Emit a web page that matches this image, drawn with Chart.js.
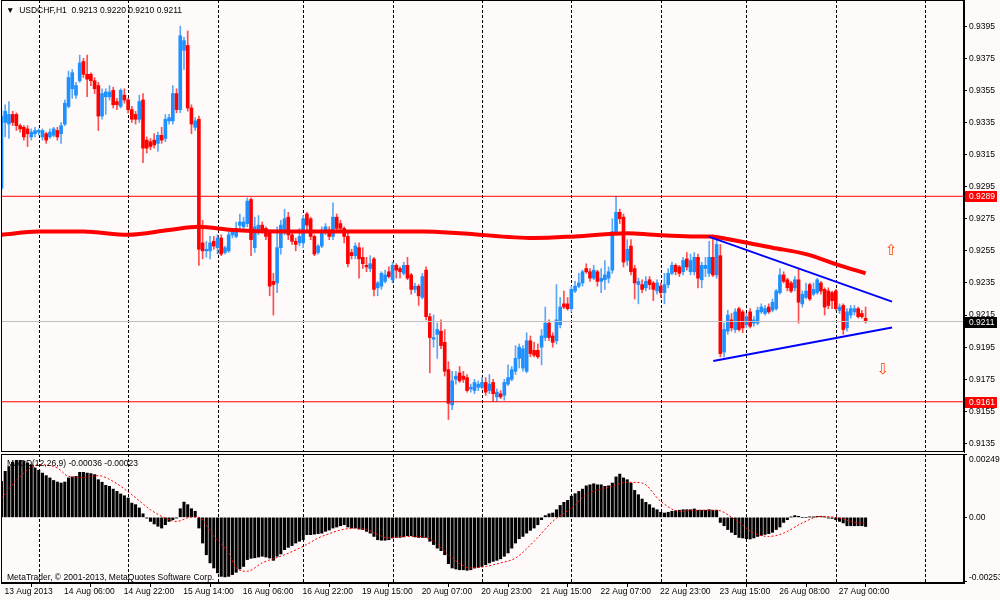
<!DOCTYPE html>
<html>
<head>
<meta charset="UTF-8">
<title>USDCHF,H1</title>
<style>
    body { margin: 0; background: #fffafa; overflow: hidden; }
    #wrap { position: relative; width: 1000px; height: 600px; overflow: hidden; background: #fffafa; }
    .panel { position: absolute; left: 0; width: 1000px; }
    #price-panel { top: 0; height: 453px; }
    #macd-panel { top: 453px; height: 147px; }
    .note {
        position: absolute;
        font-family: "Liberation Sans", Arial, sans-serif;
        font-size: 8.5px;
        line-height: 10px;
        color: #000;
        white-space: pre;
    }
</style>
</head>
<body>
<div id="wrap">
    <div class="panel" id="price-panel"><canvas id="price-chart"></canvas></div>
    <div class="panel" id="macd-panel"><canvas id="macd-chart"></canvas></div>
    <div class="note" style="left:6px; top:5px;">▼  USDCHF,H1  0.9213 0.9220 0.9210 0.9211</div>
    <div class="note" style="left:7px; top:458px;">MACD(12,26,9) -0.00036 -0.00023</div>
    <div class="note" style="left:7px; top:572px;">MetaTrader, © 2001-2013, MetaQuotes Software Corp.</div>
</div>

<script src="https://cdn.jsdelivr.net/npm/chart.js"></script>
<script>
    // H1 candles, bar 0 = 13 Aug 2013 14:00
    const opens = [
        .9294, .9335, .9334, .9340, .9340, .9333, .9332, .9331, .9326, .9328,
        .9329, .9326, .9328, .9326, .9327, .9330, .9328, .9334, .9345, .9356,
        .9352, .9361, .9373, .9365, .9365, .9361, .9358, .9339, .9351, .9351,
        .9355, .9348, .9345, .9352, .9349, .9343, .9340, .9337, .9349, .9324,
        .9323, .9324, .9322, .9327, .9325, .9336, .9336, .9353, .9343, .9380,
        .9383, .9344, .9332, .9337, .9260, .9255, .9255, .9261, .9257, .9263,
        .9254, .9255, .9265, .9264, .9271, .9270, .9272, .9287, .9257, .9268,
        .9271, .9269, .9267, .9236, .9235, .9257, .9268, .9276, .9265, .9261,
        .9260, .9260, .9278, .9275, .9264, .9254, .9258, .9267, .9268, .9264,
        .9276, .9272, .9269, .9264, .9254, .9252, .9257, .9251, .9246, .9244,
        .9250, .9232, .9233, .9236, .9242, .9237, .9246, .9244, .9241, .9246,
        .9240, .9231, .9233, .9226, .9243, .9214, .9200, .9203, .9205, .9198,
        .9181, .9159, .9175, .9179, .9177, .9176, .9169, .9168, .9170, .9170,
        .9173, .9168, .9173, .9164, .9166, .9165, .9172, .9175, .9180, .9188,
        .9182, .9180, .9199, .9193, .9193, .9195, .9201, .9210, .9202, .9199,
        .9209, .9222, .9222, .9219, .9230, .9233, .9235, .9244, .9242, .9238,
        .9242, .9236, .9237, .9238, .9243, .9267, .9279, .9276, .9249, .9258,
        .9244, .9234, .9234, .9232, .9237, .9235, .9230, .9233, .9229, .9234,
        .9241, .9246, .9245, .9242, .9250, .9242, .9242, .9251, .9237, .9244,
        .9241, .9251, .9240, .9252, .9192, .9205, .9212, .9206, .9219, .9217,
        .9209, .9217, .9210, .9210, .9217, .9216, .9220, .9218, .9219, .9229,
        .9240, .9237, .9235, .9232, .9237, .9222, .9226, .9234, .9228, .9229,
        .9235, .9231, .9230, .9229, .9230, .9218, .9221, .9207, .9215, .9217,
        .9219, .9216, .9213
    ];
    const highs = [
        .9343, .9346, .9348, .9342, .9341, .9334, .9333, .9333, .9331, .9332,
        .9331, .9331, .9329, .9331, .9332, .9332, .9335, .9349, .9367, .9368,
        .9360, .9377, .9375, .9377, .9366, .9363, .9360, .9356, .9356, .9358,
        .9357, .9350, .9356, .9356, .9350, .9345, .9342, .9352, .9353, .9326,
        .9325, .9328, .9329, .9332, .9340, .9340, .9358, .9356, .9395, .9388,
        .9392, .9346, .9338, .9339, .9274, .9261, .9264, .9264, .9265, .9265,
        .9258, .9268, .9269, .9273, .9278, .9276, .9288, .9288, .9276, .9277,
        .9273, .9270, .9268, .9241, .9270, .9274, .9281, .9279, .9267, .9263,
        .9269, .9277, .9279, .9276, .9265, .9259, .9270, .9272, .9270, .9285,
        .9278, .9274, .9270, .9266, .9256, .9260, .9260, .9257, .9251, .9252,
        .9251, .9236, .9242, .9243, .9245, .9248, .9247, .9245, .9248, .9251,
        .9241, .9235, .9234, .9241, .9245, .9216, .9215, .9210, .9212, .9206,
        .9186, .9180, .9180, .9183, .9180, .9178, .9172, .9175, .9174, .9176,
        .9176, .9178, .9175, .9169, .9168, .9175, .9184, .9183, .9196, .9197,
        .9196, .9204, .9202, .9198, .9197, .9206, .9220, .9212, .9204, .9234,
        .9226, .9230, .9226, .9233, .9236, .9241, .9243, .9247, .9244, .9246,
        .9243, .9244, .9249, .9245, .9275, .9289, .9281, .9278, .9262, .9262,
        .9246, .9238, .9237, .9239, .9239, .9236, .9237, .9235, .9241, .9244,
        .9248, .9247, .9246, .9251, .9254, .9253, .9254, .9253, .9248, .9251,
        .9261, .9265, .9264, .9259, .9210, .9218, .9216, .9219, .9220, .9218,
        .9216, .9219, .9214, .9220, .9222, .9221, .9222, .9225, .9231, .9244,
        .9242, .9238, .9236, .9239, .9244, .9230, .9235, .9235, .9235, .9238,
        .9236, .9232, .9232, .9230, .9231, .9222, .9222, .9219, .9221, .9221,
        .9220, .9218, .9220
    ];
    const lows = [
        .9293, .9326, .9325, .9333, .9330, .9329, .9324, .9320, .9324, .9326,
        .9327, .9324, .9322, .9325, .9326, .9324, .9322, .9333, .9344, .9350,
        .9350, .9360, .9363, .9351, .9358, .9353, .9330, .9337, .9340, .9349,
        .9344, .9343, .9344, .9347, .9341, .9335, .9334, .9335, .9310, .9316,
        .9318, .9319, .9317, .9322, .9323, .9334, .9334, .9341, .9341, .9368,
        .9342, .9328, .9330, .9246, .9250, .9251, .9250, .9256, .9253, .9252,
        .9253, .9254, .9263, .9263, .9269, .9269, .9270, .9252, .9254, .9265,
        .9266, .9262, .9227, .9215, .9229, .9253, .9265, .9262, .9259, .9255,
        .9258, .9257, .9268, .9262, .9252, .9253, .9257, .9265, .9262, .9262,
        .9267, .9267, .9260, .9245, .9250, .9250, .9238, .9244, .9242, .9242,
        .9227, .9227, .9231, .9235, .9238, .9235, .9238, .9238, .9240, .9237,
        .9228, .9229, .9221, .9225, .9212, .9179, .9195, .9188, .9194, .9177,
        .9150, .9156, .9172, .9173, .9173, .9167, .9167, .9166, .9168, .9169,
        .9165, .9166, .9161, .9161, .9163, .9162, .9171, .9174, .9178, .9182,
        .9180, .9179, .9189, .9189, .9188, .9184, .9199, .9199, .9195, .9197,
        .9207, .9219, .9218, .9217, .9229, .9232, .9233, .9241, .9236, .9237,
        .9233, .9229, .9231, .9235, .9241, .9265, .9272, .9245, .9246, .9240,
        .9225, .9222, .9229, .9230, .9231, .9224, .9228, .9226, .9222, .9232,
        .9240, .9240, .9239, .9240, .9243, .9240, .9240, .9232, .9232, .9239,
        .9239, .9239, .9238, .9189, .9189, .9203, .9205, .9204, .9205, .9204,
        .9207, .9207, .9208, .9209, .9216, .9215, .9216, .9217, .9218, .9228,
        .9235, .9230, .9229, .9230, .9210, .9220, .9225, .9224, .9227, .9228,
        .9228, .9215, .9219, .9219, .9218, .9216, .9203, .9205, .9213, .9215,
        .9213, .9213, .9210
    ];
    const closes = [
        .9339, .9342, .9340, .9335, .9333, .9331, .9326, .9328, .9329, .9330,
        .9330, .9330, .9324, .9329, .9331, .9326, .9333, .9347, .9363, .9366,
        .9358, .9372, .9365, .9362, .9361, .9356, .9339, .9353, .9354, .9354,
        .9346, .9346, .9355, .9349, .9343, .9337, .9337, .9348, .9319, .9319,
        .9320, .9321, .9327, .9324, .9337, .9338, .9353, .9343, .9389, .9386,
        .9344, .9334, .9336, .9256, .9255, .9256, .9260, .9258, .9263, .9253,
        .9257, .9265, .9267, .9269, .9273, .9273, .9286, .9262, .9270, .9271,
        .9268, .9264, .9233, .9234, .9257, .9271, .9275, .9265, .9261, .9259,
        .9264, .9275, .9271, .9264, .9253, .9258, .9268, .9270, .9264, .9276,
        .9269, .9269, .9264, .9247, .9252, .9258, .9250, .9247, .9245, .9247,
        .9231, .9235, .9241, .9240, .9239, .9246, .9243, .9242, .9246, .9238,
        .9231, .9233, .9227, .9239, .9214, .9201, .9201, .9206, .9196, .9180,
        .9160, .9174, .9177, .9174, .9175, .9168, .9170, .9173, .9172, .9173,
        .9167, .9172, .9166, .9167, .9164, .9173, .9176, .9181, .9188, .9195,
        .9194, .9199, .9191, .9190, .9189, .9202, .9210, .9201, .9198, .9212,
        .9220, .9220, .9219, .9231, .9233, .9235, .9242, .9242, .9238, .9243,
        .9236, .9238, .9240, .9242, .9267, .9279, .9275, .9248, .9256, .9242,
        .9235, .9236, .9231, .9236, .9234, .9231, .9235, .9229, .9234, .9241,
        .9246, .9242, .9241, .9249, .9245, .9249, .9251, .9238, .9246, .9246,
        .9251, .9240, .9259, .9191, .9206, .9215, .9207, .9217, .9206, .9207,
        .9214, .9208, .9212, .9218, .9220, .9219, .9217, .9223, .9230, .9240,
        .9236, .9232, .9230, .9237, .9223, .9228, .9230, .9225, .9231, .9237,
        .9230, .9220, .9221, .9224, .9219, .9220, .9206, .9217, .9219, .9219,
        .9214, .9214, .9211
    ];

    // slow moving average (thick red), read at a few bars
    const maBars = [0, 10, 22, 34, 45, 53, 62, 75, 88, 102, 113, 123, 143, 154, 168, 175, 185, 190, 198, 207, 216, 225, 232];
    const maValues = [.9265, .9267, .9267, .9265, .9268, .9270, .9268, .9267, .9267, .9267, .9267, .9266, .9263, .9264, .9266, .9265, .9264, .9264, .9261, .9257, .9253, .9246, .9241];

    // MACD(12,26,9) main histogram, one value per bar
    const macdMain = [
        .00141, .00181, .00200, .00216, .00224, .00224, .00220, .00214, .00207, .00194,
        .00185, .00174, .00164, .00155, .00145, .00139, .00135, .00139, .00155, .00159,
        .00161, .00177, .00177, .00174, .00172, .00168, .00148, .00138, .00126, .00122,
        .00111, .00102, .00092, .00085, .00076, .00056, .00050, .00037, .00014, -.00003,
        -.00016, -.00026, -.00035, -.00042, -.00029, -.00016, -.00009, -.00003, .00034, .00060,
        .00050, .00034, .00024, -.00042, -.00101, -.00147, -.00179, -.00199, -.00218, -.00232,
        -.00234, -.00232, -.00225, -.00216, -.00203, -.00193, -.00166, -.00161, -.00159, -.00156,
        -.00153, -.00156, -.00160, -.00169, -.00153, -.00144, -.00127, -.00118, -.00111, -.00101,
        -.00094, -.00088, -.00068, -.00068, -.00066, -.00064, -.00062, -.00055, -.00050, -.00042,
        -.00038, -.00033, -.00029, -.00038, -.00042, -.00042, -.00046, -.00048, -.00055, -.00062,
        -.00075, -.00088, -.00090, -.00090, -.00088, -.00081, -.00079, -.00079, -.00077, -.00072,
        -.00072, -.00077, -.00079, -.00079, -.00079, -.00094, -.00107, -.00121, -.00131, -.00147,
        -.00182, -.00199, -.00203, -.00206, -.00206, -.00208, -.00206, -.00199, -.00197, -.00193,
        -.00186, -.00179, -.00173, -.00169, -.00163, -.00153, -.00140, -.00121, -.00101, -.00084,
        -.00075, -.00062, -.00051, -.00042, -.00029, -.00009, .00007, .00014, .00017, .00030,
        .00047, .00059, .00067, .00083, .00093, .00102, .00111, .00124, .00128, .00132,
        .00128, .00128, .00122, .00124, .00135, .00159, .00170, .00155, .00148, .00135,
        .00106, .00089, .00072, .00059, .00050, .00037, .00030, .00020, .00017, .00020,
        .00024, .00026, .00028, .00030, .00030, .00030, .00033, .00028, .00028, .00028,
        .00030, .00028, .00028, -.00020, -.00033, -.00048, -.00059, -.00068, -.00079, -.00081,
        -.00084, -.00085, -.00081, -.00075, -.00071, -.00067, -.00064, -.00059, -.00048, -.00038,
        -.00020, -.00009, .00001, .00007, .00004, .00000, .00000, .00001, .00001, .00004,
        .00004, .00001, -.00003, -.00004, -.00009, -.00016, -.00022, -.00033, -.00033, -.00033,
        -.00033, -.00033, -.00036
    ];
    // signal line (red dotted), read at a few bars
    const signalBars = [0, 5, 10, 15, 18, 22, 26, 30, 35, 40, 44, 47, 51, 53, 57, 61, 63, 66, 70, 76, 81, 86, 95, 98, 104, 108, 112, 116, 121, 126, 130, 134, 138, 143, 148, 153, 157, 164, 168, 172, 177, 182, 188, 192, 197, 202, 206, 210, 215, 220, 225, 229, 232];
    const signalValues = [.00076, .00161, .00207, .00194, .00161, .00157, .00164, .00141, .00089, .00030, -.00003, -.00016, .00001, .00000, -.00075, -.00140, -.00199, -.00212, -.00179, -.00147, -.00114, -.00075, -.00042, -.00048, -.00081, -.00075, -.00075, -.00094, -.00160, -.00199, -.00193, -.00179, -.00160, -.00094, -.00016, .00037, .00089, .00122, .00138, .00135, .00063, .00024, .00028, .00028, -.00009, -.00062, -.00075, -.00062, -.00022, .00004, -.00003, -.00020, -.00023];

    // objects drawn on the chart
    const levelPrices = [0.9289, 0.9161];
    const bidPrice = 0.9211;
    const upperTrendBars = [189.9, 239.1];
    const upperTrendPrices = [0.92639, 0.92234];
    const lowerTrendBars = [191.1, 239.1];
    const lowerTrendPrices = [0.91864, 0.92072];
    const arrowBars = [238.9, 236.7];
    const arrowPrices = [0.9255, 0.9181];
    const arrowGlyphs = ['⇧', '⇩'];
    const tagPrices = [0.9289, 0.9211, 0.9161];
    const tagColors = ['#ff0000', '#000000', '#ff0000'];

    // axes
    const priceTicks = [0.9135, 0.9155, 0.9175, 0.9195, 0.9215, 0.9235, 0.9255, 0.9275, 0.9295, 0.9315, 0.9335, 0.9355, 0.9375, 0.9395];
    const macdTicks = [0.00249, 0, -0.00253];
    const macdTickLabels = ['0.00249', '0.00', '-0.00253'];
    const timeTickBars = [0, 16, 32, 48, 64, 80, 96, 112, 128, 144, 160, 176, 192, 208, 224];
    const timeTickLabels = ['13 Aug 2013', '14 Aug 06:00', '14 Aug 22:00', '15 Aug 14:00', '16 Aug 06:00', '16 Aug 22:00', '19 Aug 15:00', '20 Aug 07:00', '20 Aug 23:00', '21 Aug 15:00', '22 Aug 07:00', '22 Aug 23:00', '23 Aug 15:00', '26 Aug 08:00', '27 Aug 00:00'];
    const dayStartBars = [10, 34, 58, 81, 105, 129, 153, 177, 200, 224, 248];

    const FONT = '"Liberation Sans", Arial, sans-serif';
    const xMin = -0.13, xMax = 258.42;
    const axisWidth = 36;

    const bull = '#1e90ff', bear = '#ff0000';
    const bodyColors = closes.map((c, i) => c >= opens[i] ? bull : bear);
    const wickColors = closes.map((c, i) => c >= opens[i] ? '#5aa9f6' : '#ff4d4d');

    // fixed-width right scale, no extra padding for the edge labels
    const fitRight = s => {
        s.width = axisWidth;
        s.paddingTop = 0;
        s.paddingBottom = 0;
    };

    // dashed day separators, behind the bars
    const dayGrid = {
        id: 'dayGrid',
        beforeDatasetsDraw(chart) {
            const { ctx, chartArea: a, scales: { x } } = chart;
            ctx.save();
            ctx.strokeStyle = '#000';
            ctx.lineWidth = 1;
            ctx.setLineDash([3, 2]);
            dayStartBars.forEach(b => {
                const px = Math.round(x.getPixelForValue(b)) + 0.5;
                if (px < a.left || px > a.right) return;
                ctx.beginPath();
                ctx.moveTo(px, a.top);
                ctx.lineTo(px, a.bottom);
                ctx.stroke();
            });
            ctx.restore();
        }
    };

    const frame = {
        id: 'frame',
        afterDraw(chart) {
            const { ctx, chartArea: a } = chart;
            ctx.save();
            ctx.strokeStyle = '#000';
            ctx.lineWidth = 1;
            ctx.strokeRect(a.left + 0.5, a.top + 0.5, a.width - 1, a.height - 1);
            ctx.restore();
        }
    };

    // price boxes on the right scale and the two arrows
    const priceExtras = {
        id: 'priceExtras',
        afterDatasetsDraw(chart) {
            const { ctx, scales: { x, y } } = chart;
            ctx.save();
            ctx.font = '15px "DejaVu Sans"';
            ctx.textAlign = 'center';
            ctx.textBaseline = 'middle';
            ctx.fillStyle = '#ff4500';
            arrowBars.forEach((b, i) => {
                ctx.fillText(arrowGlyphs[i], x.getPixelForValue(b), y.getPixelForValue(arrowPrices[i]));
            });
            ctx.restore();
        },
        afterDraw(chart) {
            const { ctx, chartArea: a, scales: { y } } = chart;
            ctx.save();
            ctx.font = '8.5px ' + FONT;
            ctx.textBaseline = 'middle';
            tagPrices.forEach((p, i) => {
                const py = Math.round(y.getPixelForValue(p));
                ctx.fillStyle = tagColors[i];
                ctx.fillRect(a.right + 1, py - 5, 32, 11);
                ctx.fillStyle = '#fff';
                ctx.fillText(p.toFixed(4), a.right + 5, py + 0.5);
            });
            ctx.restore();
        }
    };

    // MACD scale labels sit inside the window edges
    const macdLabels = {
        id: 'macdLabels',
        afterDraw(chart) {
            const { ctx, chartArea: a, scales: { y } } = chart;
            ctx.save();
            ctx.font = '8.5px ' + FONT;
            ctx.fillStyle = '#000';
            macdTicks.forEach((v, i) => {
                let py = y.getPixelForValue(v);
                ctx.textBaseline = i === 0 ? 'top' : (i === macdTicks.length - 1 ? 'bottom' : 'middle');
                if (i === 0) py += 1;
                ctx.fillText(macdTickLabels[i], a.right + 5, py);
            });
            ctx.restore();
        }
    };

    const hLine = (v, color, width) => ({
        type: 'line',
        data: [{ x: xMin, y: v }, { x: xMax, y: v }],
        borderColor: color,
        borderWidth: width,
        pointRadius: 0,
        order: 2
    });

    new Chart(document.getElementById('price-chart'), {
        type: 'bar',
        data: {
            datasets: [
                {
                    label: 'wick',
                    data: highs.map((h, i) => ({ x: i, y: [lows[i], h] })),
                    backgroundColor: wickColors,
                    barThickness: 1,
                    grouped: false,
                    order: 6
                },
                {
                    label: 'body',
                    data: opens.map((o, i) => ({ x: i, y: [o, closes[i]] })),
                    backgroundColor: bodyColors,
                    barThickness: 3,
                    minBarLength: 1,
                    grouped: false,
                    order: 5
                },
                {
                    type: 'line',
                    label: 'MA',
                    data: maBars.map((b, i) => ({ x: b, y: maValues[i] })),
                    borderColor: '#ff0000',
                    borderWidth: 4,
                    pointRadius: 0,
                    cubicInterpolationMode: 'monotone',
                    order: 3
                },
                hLine(levelPrices[0], '#ff0000', 1),
                hLine(levelPrices[1], '#ff0000', 1),
                hLine(bidPrice, '#c0c0c0', 1),
                {
                    type: 'line',
                    label: 'upper trend',
                    data: upperTrendBars.map((b, i) => ({ x: b, y: upperTrendPrices[i] })),
                    borderColor: '#0000ff',
                    borderWidth: 2,
                    pointRadius: 0,
                    order: 1
                },
                {
                    type: 'line',
                    label: 'lower trend',
                    data: lowerTrendBars.map((b, i) => ({ x: b, y: lowerTrendPrices[i] })),
                    borderColor: '#0000ff',
                    borderWidth: 2,
                    pointRadius: 0,
                    order: 1
                }
            ]
        },
        options: {
            responsive: true,
            maintainAspectRatio: false,
            animation: false,
            events: [],
            layout: { padding: { left: 1, top: 0, right: 0, bottom: 1 } },
            plugins: { legend: { display: false }, tooltip: { enabled: false } },
            scales: {
                x: {
                    type: 'linear',
                    min: xMin,
                    max: xMax,
                    offset: false,
                    display: false
                },
                y: {
                    position: 'right',
                    min: 0.91297,
                    max: 0.94113,
                    afterBuildTicks: s => { s.ticks = priceTicks.map(v => ({ value: v })); },
                    afterFit: fitRight,
                    grid: { drawOnChartArea: false, drawTicks: true, tickLength: 3, color: '#000' },
                    border: { display: true, color: '#000' },
                    ticks: {
                        autoSkip: false,
                        padding: 2,
                        color: '#000',
                        font: { family: FONT, size: 8.5 },
                        callback: v => v.toFixed(4)
                    }
                }
            }
        },
        plugins: [dayGrid, frame, priceExtras]
    });

    new Chart(document.getElementById('macd-chart'), {
        type: 'bar',
        data: {
            datasets: [
                {
                    label: 'MACD',
                    data: macdMain.map((v, i) => ({ x: i, y: v })),
                    backgroundColor: '#000',
                    barThickness: 2.4,
                    grouped: false,
                    order: 2
                },
                {
                    type: 'line',
                    label: 'Signal',
                    data: signalBars.map((b, i) => ({ x: b, y: signalValues[i] })),
                    borderColor: '#ff0000',
                    borderWidth: 1,
                    borderDash: [2, 2],
                    pointRadius: 0,
                    cubicInterpolationMode: 'monotone',
                    order: 1
                }
            ]
        },
        options: {
            responsive: true,
            maintainAspectRatio: false,
            animation: false,
            events: [],
            layout: { padding: { left: 1, top: 1, right: 0, bottom: 0 } },
            plugins: { legend: { display: false }, tooltip: { enabled: false } },
            scales: {
                x: {
                    type: 'linear',
                    min: xMin,
                    max: xMax,
                    offset: false,
                    afterBuildTicks: s => { s.ticks = timeTickBars.map(v => ({ value: v })); },
                    afterFit: s => { s.height = 17; s.paddingLeft = 0; s.paddingRight = 0; },
                    grid: { drawOnChartArea: false, drawTicks: true, tickLength: 4, color: '#000' },
                    border: { display: true, color: '#000' },
                    ticks: {
                        autoSkip: false,
                        maxRotation: 0,
                        align: 'start',
                        labelOffset: 3,
                        padding: 0,
                        color: '#000',
                        font: { family: FONT, size: 8.5 },
                        callback: v => timeTickLabels[timeTickBars.indexOf(v)]
                    }
                },
                y: {
                    position: 'right',
                    min: -0.00258,
                    max: 0.00249,
                    afterBuildTicks: s => { s.ticks = macdTicks.map(v => ({ value: v })); },
                    afterFit: fitRight,
                    grid: { drawOnChartArea: false, drawTicks: true, tickLength: 3, color: '#000' },
                    border: { display: true, color: '#000' },
                    ticks: { display: false }
                }
            }
        },
        plugins: [dayGrid, frame, macdLabels]
    });
</script>
</body>
</html>
